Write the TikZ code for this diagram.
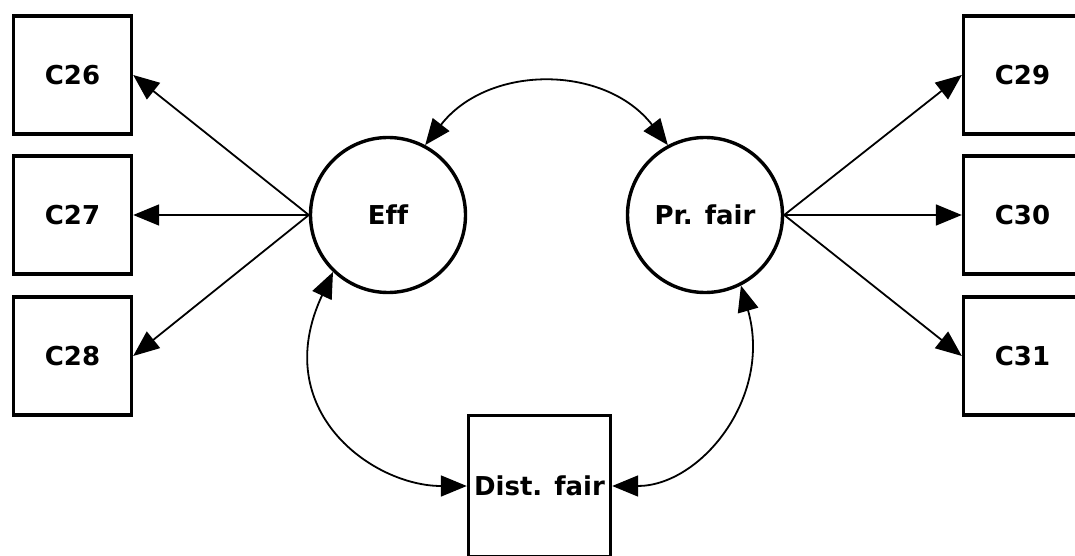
\documentclass[tikz,border=0pt]{standalone}
\usepackage{fontspec}
\setmainfont{DejaVu Sans}[Ligatures=CommonOff]
\usetikzlibrary{arrows.meta}
\begin{document}
\begin{tikzpicture}[x=1pt,y=1pt,
  obs/.style={draw=black, line width=3.4pt, minimum width=118pt, minimum height=118pt, inner sep=0pt, font=\fontsize{26}{30}\selectfont\bfseries},
  lat/.style={draw=black, circle, line width=3.4pt, minimum size=155pt, inner sep=0pt, font=\fontsize{26}{30}\selectfont\bfseries},
  conn/.style={line width=1.8pt, -{Triangle[length=26pt,width=21pt]}},
  cov/.style={line width=1.8pt, {Triangle[length=26pt,width=21pt]}-{Triangle[length=26pt,width=21pt]}}]
\useasboundingbox (0,0) rectangle (1075,555);
\clip (0,0) rectangle (1075,555);
\node[obs] (c26) at (72.5,480) {C26};
\node[obs] (c27) at (72.5,340) {C27};
\node[obs] (c28) at (72.5,199) {C28};
\node[obs] (c29) at (1022.5,480) {C29};
\node[obs] (c30) at (1022.5,340) {C30};
\node[obs] (c31) at (1022.5,199) {C31};
\node[lat] (eff) at (388,340) {Eff};
\node[lat] (pr) at (705,340) {Pr. fair};
\node[obs, minimum width=142pt, minimum height=141pt] (dist) at (539.5,69) {Dist. fair};
\draw[conn] (eff.west) -- (c26.east);
\draw[conn] (eff.west) -- (c27.east);
\draw[conn] (eff.west) -- (c28.east);
\draw[conn] (pr.east) -- (c29.west);
\draw[conn] (pr.east) -- (c30.west);
\draw[conn] (pr.east) -- (c31.west);
\draw[cov] (eff.62) .. controls +(63,81) and +(-63,81) .. (pr.118);
\draw[cov] (eff.226) .. controls +(-65,-139) and +(-94,0) .. (dist.west);
\draw[cov] (pr.297) .. controls +(32,-112) and +(88,0) .. (dist.east);
\end{tikzpicture}
\end{document}
